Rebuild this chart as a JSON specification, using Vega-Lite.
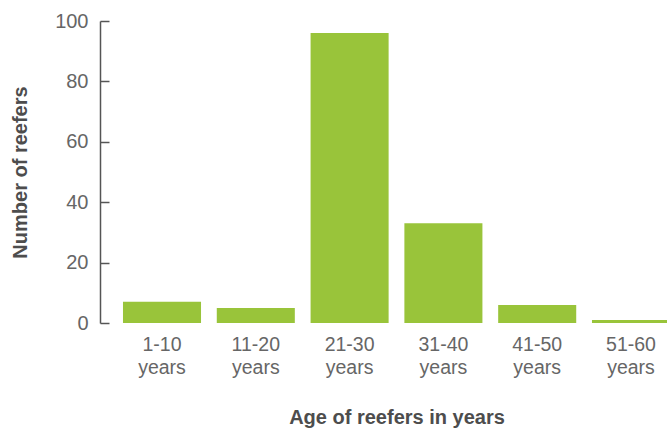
{
  "$schema": "https://vega.github.io/schema/vega-lite/v6.json",
  "autosize": "none",
  "padding": {"left": 100, "top": 21, "right": 0, "bottom": 110},
  "width": 593,
  "height": 302,
  "background": "white",
  "config": {"view": {"stroke": null}, "font": "Liberation Sans"},
  "data": {"values": [
    {"age": "1-10 years", "count": 7},
    {"age": "11-20 years", "count": 5},
    {"age": "21-30 years", "count": 96},
    {"age": "31-40 years", "count": 33},
    {"age": "41-50 years", "count": 6},
    {"age": "51-60 years", "count": 1}
  ]},
  "mark": {"type": "bar", "color": "#99c43a"},
  "encoding": {
    "x": {
      "field": "age", "type": "nominal", "sort": null,
      "scale": {"paddingInner": 0.168, "paddingOuter": 0.245},
      "axis": {
        "title": "Age of reefers in years",
        "titleFont": "Liberation Sans", "titleFontSize": 20, "titleFontWeight": "bold", "titleColor": "#4d4d4d",
        "titleBaseline": "alphabetic", "titleY": 100,
        "labelAngle": 0, "labelExpr": "split(datum.label, ' ')",
        "labelFontSize": 19.5, "labelColor": "#666666", "labelLineHeight": 23,
        "labelPadding": 12, "ticks": false, "domain": false, "grid": false
      }
    },
    "y": {
      "field": "count", "type": "quantitative",
      "scale": {"domain": [0, 100]},
      "axis": {
        "title": "Number of reefers",
        "titleFont": "Liberation Sans", "titleFontSize": 20, "titleFontWeight": "bold", "titleColor": "#4d4d4d",
        "titleBaseline": "alphabetic", "titleX": -74,
        "values": [0, 20, 40, 60, 80, 100],
        "labelFontSize": 20, "labelColor": "#666666", "labelPadding": 21,
        "tickSize": -9, "tickColor": "#555555", "tickWidth": 1.5,
        "domainColor": "#555555", "domainWidth": 1.5, "grid": false
      }
    }
  }
}
